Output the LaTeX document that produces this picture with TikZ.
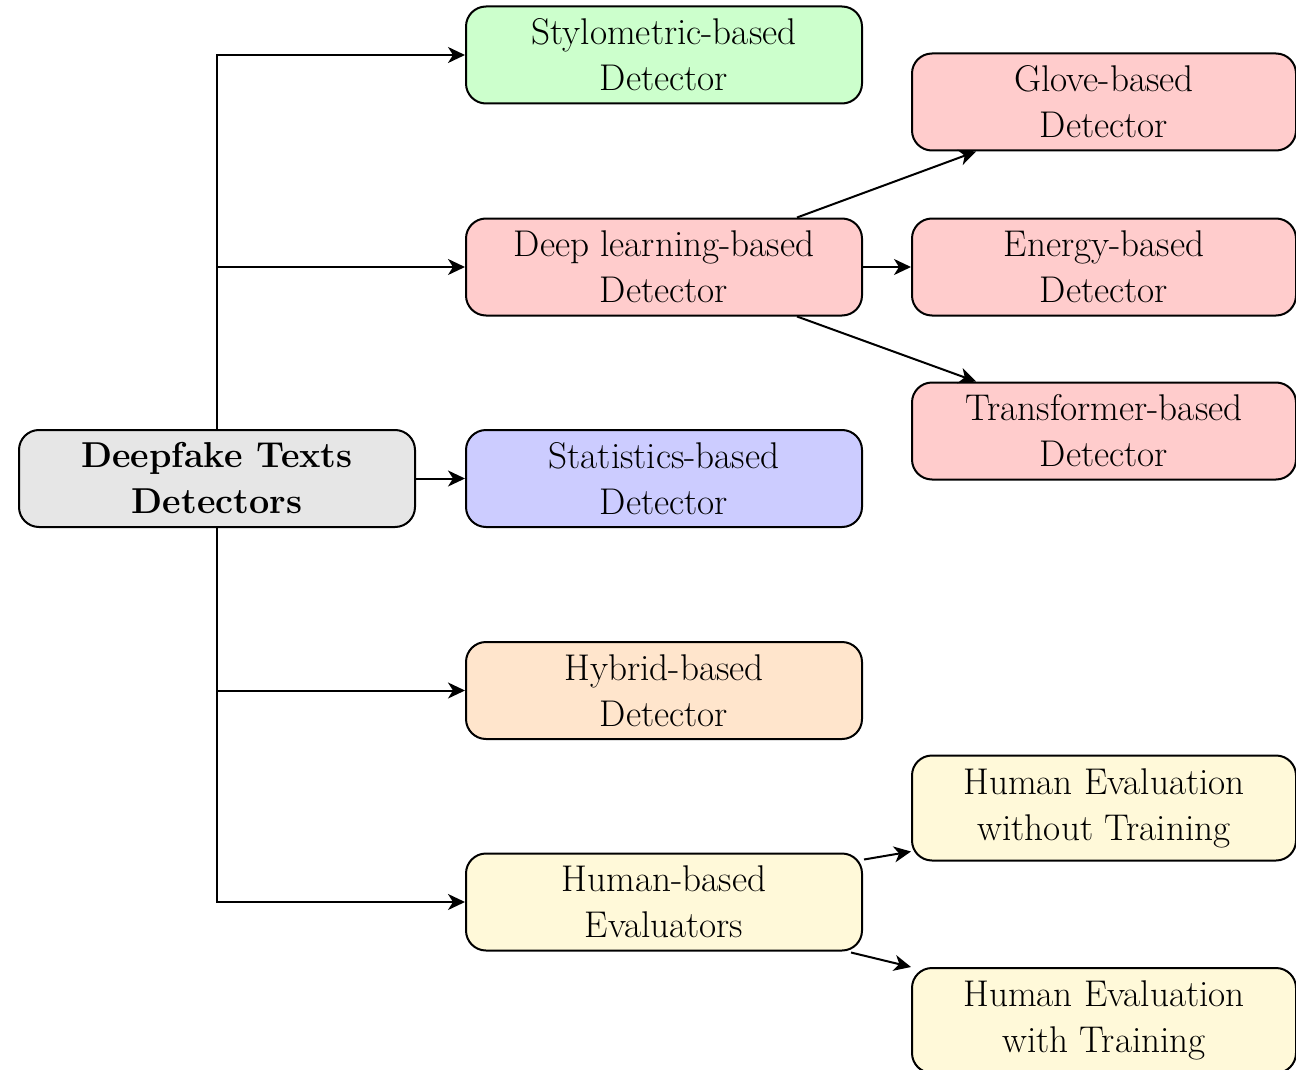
\documentclass[tikz,border=0pt]{standalone}
\usetikzlibrary{arrows.meta,calc}
\definecolor{cgreen}{RGB}{204,255,204}
\definecolor{cpink}{RGB}{255,204,204}
\definecolor{cblue}{RGB}{204,204,255}
\definecolor{corange}{RGB}{255,229,204}
\definecolor{cyellow}{RGB}{255,249,217}
\definecolor{cgrey}{RGB}{230,230,230}
\begin{document}
\begin{tikzpicture}[x=0.5pt,y=-0.5pt,
  box/.style={draw=black, line width=1pt, rounded corners=10pt,
    minimum width=198pt, minimum height=48.5pt, inner sep=0pt,
    align=center, font=\fontsize{18.6}{23}\selectfont},
  rbox/.style={box, minimum width=192pt},
  link/.style={line width=1pt, -{Stealth[length=8.5pt,width=8pt,inset=2.5pt]}}]
\clip (0,0) rectangle (1296,1070);

% root
\node[box, fill=cgrey, font=\fontsize{18}{23}\selectfont\bfseries] (root) at (217,478.5) {Deepfake Texts\\Detectors};

% main categories
\node[box, fill=cgreen]  (styl)   at (664,55)    {Stylometric-based\\Detector};
\node[box, fill=cpink]   (deep)   at (664,267)   {Deep learning-based\\Detector};
\node[box, fill=cblue]   (stat)   at (664,478.5) {Statistics-based\\Detector};
\node[box, fill=corange] (hybrid) at (664,690.5) {Hybrid-based\\Detector};
\node[box, fill=cyellow] (human)  at (664,902)   {Human-based\\Evaluators};

% sub-categories
\node[rbox, fill=cpink] (glove)  at (1104,102) {Glove-based\\Detector};
\node[rbox, fill=cpink] (energy) at (1104,267) {Energy-based\\Detector};
\node[rbox, fill=cpink] (trans)  at (1104,431) {Transformer-based\\Detector};
\node[rbox, fill=cyellow, minimum height=52.5pt] (hwo) at (1104,808)    {Human Evaluation\\without Training};
\node[rbox, fill=cyellow, minimum height=52.5pt] (hw)  at (1104,1020.5) {Human Evaluation\\with Training};

% tree connectors
\draw[link] (root.north) |- (styl.west);
\draw[link] (root.north) |- (deep.west);
\draw[link] (root.east) -- (stat.west);
\draw[link] (root.south) |- (hybrid.west);
\draw[link] (root.south) |- (human.west);

\draw[link] ($(deep.north)+(133,0)$) -- ($(glove.south west)+(65,0)$);
\draw[link] (deep.east) -- (energy.west);
\draw[link] ($(deep.south)+(133,0)$) -- ($(trans.north west)+(65,0)$);

\draw[link] ($(human.north east)+(1,7)$) -- ($(hwo.south west)+(0,-10)$);
\draw[link] ($(human.south east)+(-12,1)$) -- (hw.north west);
\end{tikzpicture}
\end{document}
